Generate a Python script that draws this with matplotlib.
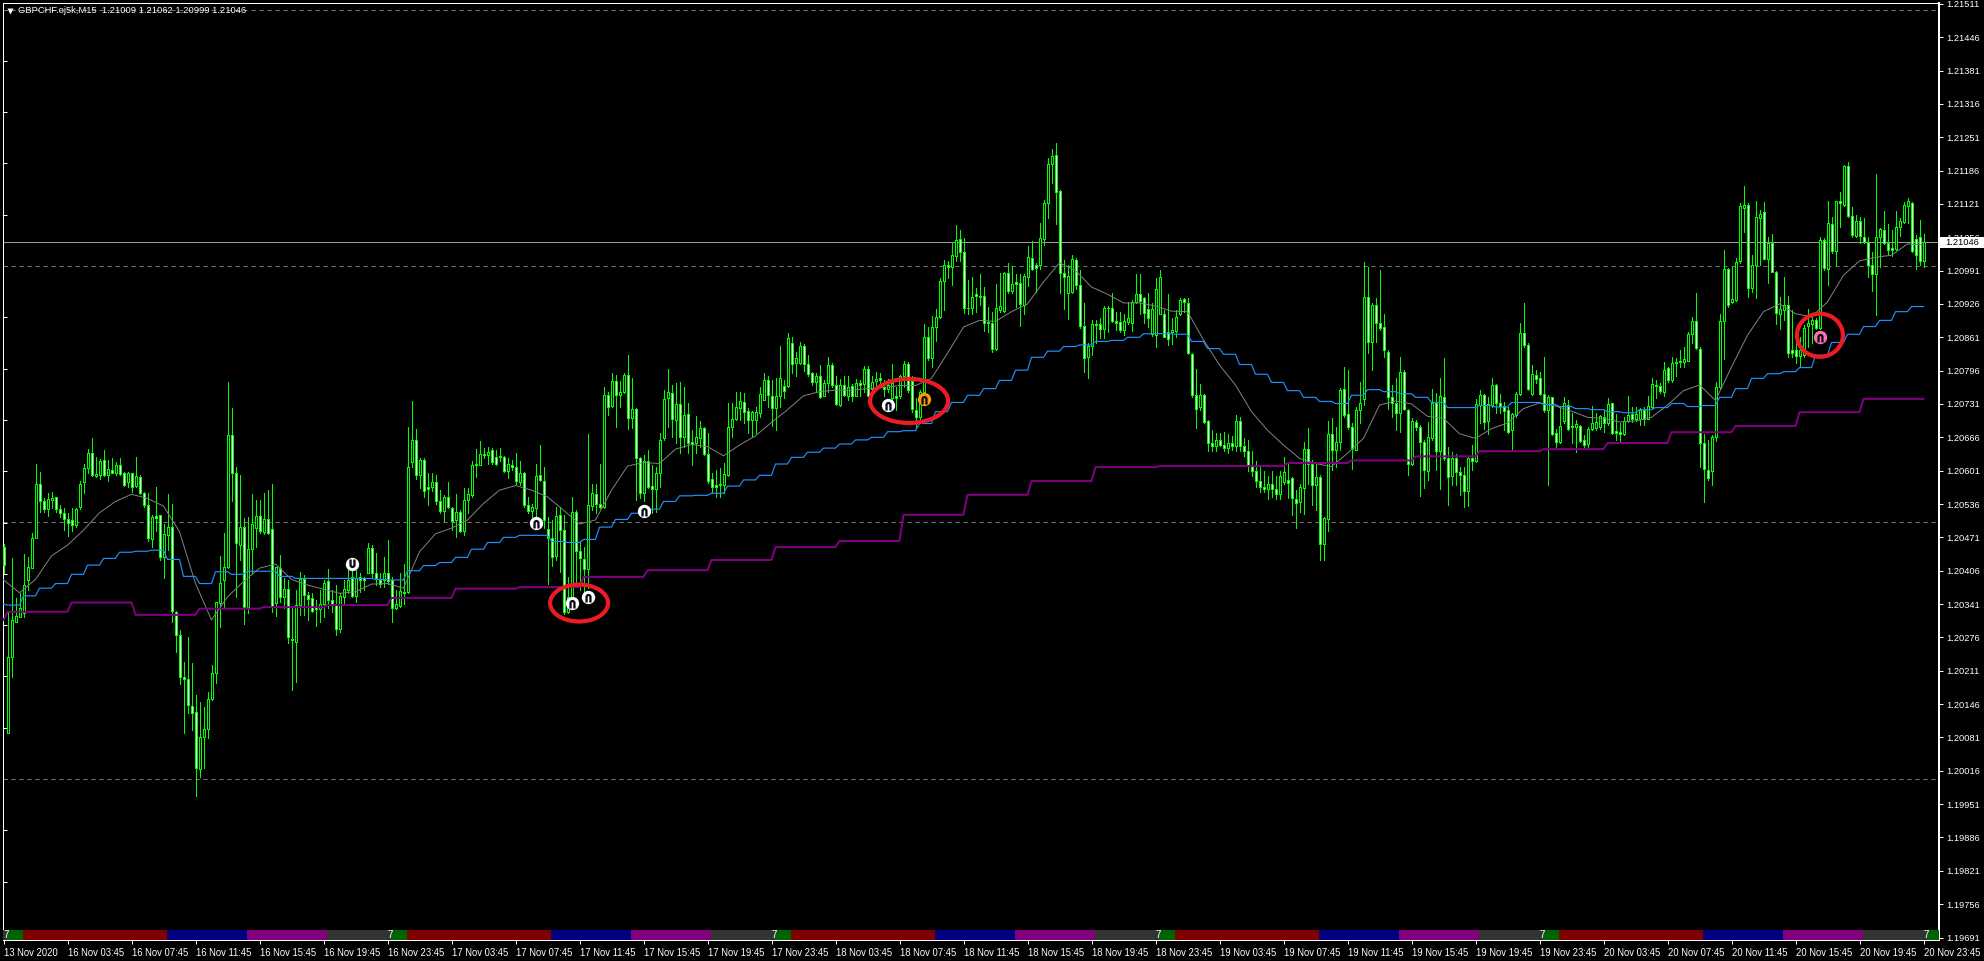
import numpy as np
import matplotlib
matplotlib.use("Agg")
import matplotlib.pyplot as plt
from matplotlib.patches import Ellipse, Rectangle
from matplotlib.path import Path
from matplotlib.lines import Line2D
from matplotlib.transforms import blended_transform_factory

plt.rcParams['font.family'] = ['Liberation Sans', 'DejaVu Sans']

# Prices in points above 1.20000 (1 point = 0.00001), one per M15 bar
opens_pts = [
453,89,237,307,316,323,387,411,469,575, 541,527,544,549,527,519,506,504,495,530,
578,606,635,591,593,621,592,603,596,613, 596,578,596,571,589,558,534,467,513,514,
432,476,491,326,280,199,194,142,131,19, 81,98,155,206,344,388,413,670,596,457,
491,335,448,489,513,482,506,487,344,411, 354,370,272,268,339,389,358,353,336,331,
342,385,349,339,293,355,368,393,357,393, 391,401,450,402,388,387,402,387,333,338,
365,364,617,661,593,622,570,570,578,541, 523,549,528,504,521,484,543,554,612,613,
632,632,641,627,630,628,601,612,609,578, 596,534,523,528,593,580,487,469,435,514,
485,326,355,521,445,428,409,532,556,537, 531,748,727,775,749,755,787,703,721,625,
557,619,571,566,596,664,742,753,700,731, 667,711,656,655,664,684,633,584,574,573,
573,593,687,701,723,734,717,699,699,714, 739,777,746,723,746,767,767,850,811,811,
844,808,791,773,786,746,772,807,768,729, 768,747,766,746,772,770,799,760,775,782,
765,760,742,747,746,785,809,775,720,705, 755,862,820,882,900,971,1001,998,1020,1052,
1028,919,919,945,941,941,891,888,839,914, 913,987,952,969,966,924,979,1015,1002,1002,
1052,1122,1199,1216,1147,986,948,950,1011,962, 884,823,844,887,887,878,919,918,893,890,
876,890,889,930,945,937,917,867,865,907, 906,872,871,874,907,935,927,829,748,725,
748,698,655,650,660,652,645,655,650,698, 650,640,610,600,580,570,565,575,565,555,
579,582,586,545,540,568,644,614,573,589, 459,506,672,641,657,761,711,686,642,719,
740,939,852,924,889,881,833,745,732,714, 794,719,615,696,686,657,601,664,732,640,
744,625,590,625,599,592,562,625,620,729, 748,698,729,768,733,728,720,681,709,751,
869,846,751,787,781,750,720,744,675,657, 698,729,689,686,688,660,653,683,684,687,
705,693,732,678,677,672,698,712,701,701, 720,702,725,769,766,755,801,777,810,813,
813,815,868,892,839,654,602,601,667,764, 893,995,930,933,1009,1114,1118,957,1001,1093,
1105,1014,1044,989,906,915,924,837,837,824, 826,883,887,894,880,1050,995,1082,1030,1126,
1118,1195,1097,1058,1087,1056,1047,1001,984,1056, 1071,1045,1036,1034,1076,1086,1117,1122,1052,1056,
1009]
highs_pts = [
459,326,430,352,362,439,433,479,615,599, 547,557,560,550,534,528,518,528,528,580,
614,643,664,628,623,641,622,625,617,625, 599,599,596,627,593,560,558,515,569,515,
498,556,536,328,290,229,277,227,164,151, 141,170,222,345,434,479,774,723,608,593,
508,511,555,543,544,557,563,575,414,437, 391,388,336,368,404,398,365,362,349,368,
388,409,368,378,362,388,407,414,407,401, 394,460,456,440,401,433,466,394,368,401,
419,686,737,682,625,625,596,596,593,563, 554,578,531,556,524,567,567,619,643,658,
645,648,645,641,645,630,625,622,636,619, 599,550,537,615,651,609,511,505,531,531,
515,394,550,524,463,453,672,576,576,615, 765,755,791,788,775,791,827,781,723,628,
632,641,612,609,674,759,799,768,771,773, 765,733,681,707,697,687,674,596,602,606,
616,733,733,755,755,752,723,718,726,765, 792,785,778,781,844,778,869,861,833,851,
848,827,794,791,807,778,822,810,785,779, 785,785,770,779,778,805,805,785,794,792,
778,779,809,765,788,814,812,785,742,758, 887,882,902,916,976,1012,1009,1045,1080,1070,
1054,972,979,958,985,960,920,911,965,987, 989,1005,1000,985,984,985,1039,1049,1005,1083,
1129,1210,1228,1239,1148,1011,1002,1021,1015,992, 927,849,895,895,898,922,922,948,911,911,
907,930,933,984,984,940,947,927,976,993, 914,945,898,914,937,937,937,831,800,770,
751,700,680,675,675,676,672,668,709,705, 665,660,640,620,610,600,590,600,590,600,
628,615,589,563,576,657,685,621,615,592, 511,698,703,687,763,803,798,693,725,774,
1008,998,927,937,993,906,836,768,781,823, 797,722,703,699,690,660,696,761,753,781,
820,648,638,634,608,608,628,651,740,759, 751,745,781,770,751,735,725,714,755,889,
927,849,807,797,794,822,748,745,683,725, 744,738,713,699,690,670,686,727,713,709,
719,742,733,712,693,706,746,725,725,724, 725,746,781,778,771,813,803,823,820,836,
842,872,901,947,842,672,660,670,774,907, 1031,997,998,1015,1122,1156,1122,1021,1127,1109,
1125,1057,1062,991,940,979,941,914,872,862, 885,917,901,898,1056,1054,1127,1096,1127,1145,
1197,1203,1115,1099,1096,1093,1056,1028,1179,1075, 1107,1082,1070,1108,1093,1125,1133,1125,1060,1089,
1062]
lows_pts = [
401,89,198,307,316,316,368,411,469,521, 521,513,528,521,511,485,474,484,492,527,
557,596,591,588,584,591,580,596,593,593, 571,570,560,569,556,531,463,452,484,427,
391,446,307,248,186,90,128,95,-34,4, 21,79,154,188,296,333,411,541,355,427,
303,324,401,453,479,478,478,326,318,346, 333,265,174,190,320,320,310,326,298,307,
316,333,326,281,287,339,362,355,346,365, 368,401,393,378,375,375,381,307,331,336,
342,362,609,584,567,550,534,562,537,518, 502,528,485,471,482,476,518,550,589,612,
625,614,614,612,619,599,586,602,576,573, 531,518,511,508,580,489,381,415,427,404,
322,323,349,378,368,362,372,524,518,528, 528,710,726,687,726,752,682,684,544,547,
541,567,518,521,570,661,687,667,654,635, 648,635,612,635,648,632,577,560,550,549,
557,590,667,700,700,693,674,667,674,706, 738,726,688,681,726,742,765,791,786,809,
796,786,768,755,742,746,755,765,729,727, 746,738,736,746,746,755,746,749,765,765,
746,755,739,720,742,765,755,716,687,700, 753,817,804,853,898,914,976,963,1009,1009,
908,906,907,911,924,874,872,833,836,911, 911,947,947,920,883,907,961,993,950,995,
1041,1093,1161,1082,948,917,896,947,956,880, 794,781,826,849,859,859,872,891,875,872,
865,886,873,927,907,888,881,863,842,906, 861,846,848,861,904,911,829,745,685,719,
693,640,640,640,650,640,636,642,640,640, 630,600,590,570,560,560,545,550,545,545,
576,547,514,490,521,517,576,534,524,426, 426,484,602,608,641,706,683,605,641,693,
729,831,797,852,875,822,722,706,681,677, 719,592,612,680,551,568,582,660,602,566,
621,534,573,573,553,530,532,602,618,693, 683,673,725,714,713,680,675,641,706,748,
842,758,748,771,748,716,573,670,647,654, 693,680,654,638,657,647,647,680,680,683,
677,690,673,660,659,670,696,696,698,690, 690,701,724,742,753,746,774,774,785,803,
803,815,849,839,608,540,582,573,659,761, 818,920,927,932,1006,1067,940,950,937,1002,
1013,966,989,887,878,894,823,822,810,805, 823,842,849,878,878,993,963,1026,1002,1076,
1117,1096,1056,1057,1044,1044,979,952,904,998, 1043,1021,1019,1031,1058,1084,1083,1028,995,1002,
999]
closes_pts = [
417,237,310,318,333,378,414,469,575,541, 527,545,548,527,519,506,500,495,526,576,
606,635,593,594,619,592,604,597,612,595, 574,596,570,591,558,534,469,510,508,432,
478,491,328,280,199,194,144,129,21,81, 97,155,206,345,382,413,670,596,461,491,
336,448,498,513,484,506,480,338,413,354, 370,276,270,339,389,359,350,327,331,342,
382,348,342,292,357,370,388,357,391,387, 387,450,402,392,381,402,385,333,341,367,
362,608,661,593,622,562,565,578,541,523, 549,531,502,521,484,544,556,612,615,633,
634,638,617,614,628,601,615,609,580,596, 534,523,530,590,582,505,469,433,513,485,
326,355,521,445,431,409,534,557,536,531, 748,726,775,748,755,788,703,721,625,558,
619,570,566,597,661,740,755,701,731,667, 710,655,653,666,684,634,580,569,570,575,
595,686,701,725,736,716,700,716,715,750, 777,748,723,747,781,757,859,809,820,844,
809,790,773,786,744,772,807,768,731,768, 748,765,746,772,768,799,747,773,779,778,
760,768,772,743,785,809,758,721,705,755, 861,820,882,900,971,1001,998,1021,1050,1028,
918,918,940,941,940,889,888,839,919,922, 987,952,965,965,926,980,1017,995,997,1054,
1122,1198,1214,1145,986,979,981,1013,963,884, 820,844,886,885,878,919,918,893,888,876,
893,898,930,945,932,909,899,917,956,978, 862,858,876,900,933,930,831,748,722,748,
696,655,650,660,652,645,655,650,698,650, 640,610,600,580,570,565,575,565,555,590,
599,577,547,538,569,644,614,573,589,459, 508,672,641,657,759,709,686,644,720,733,
940,852,924,888,880,836,745,732,714,794, 722,615,697,686,657,602,666,732,640,746,
625,589,625,599,592,562,625,620,731,748, 696,731,768,733,728,718,677,711,751,869,
846,761,789,780,751,719,744,673,657,689, 732,683,686,692,659,651,683,693,696,707,
693,731,675,675,672,698,709,701,712,720, 702,728,770,766,757,798,777,810,813,815,
818,868,892,841,654,605,586,666,764,892, 995,924,935,1008,1117,1118,958,1001,1095,1102,
1014,1044,989,909,917,924,831,831,824,837, 880,888,894,880,1050,997,1083,1030,1126,1122,
1195,1097,1060,1087,1058,1047,1001,984,1057,1073, 1045,1032,1032,1076,1087,1118,1126,1030,1021,1010,
1046]

# Hourly stepped average (blue): first bar, then one value per hour (4 bars)
blue_first = 341
blue_hourly = [
339,357,372,381,399,417,430,442,444,446,428,395,381,404,399,405,405,395,391,391,391,
391,391,389,388,406,416,422,432,448,461,471,475,475,463,461,467,491,506,518,
526,541,552,553,557,571,583,592,614,627,637,645,653,661,666,677,679,693,716,734,
748,761,777,797,822,834,843,846,853,855,861,868,868,867,853,839,828,808,789,773,
757,744,736,732,748,759,755,751,744,734,724,724,728,725,734,734,730,726,722,720,
716,714,720,724,732,726,728,744,761,781,790,794,802,826,851,867,882,894,911,921]

# Four-hour stepped average (purple): first bar, then one value per 16 bars
purple_first = 310
purple_h4 = [326,344,320,332,335,339,353,371,374,394,407,427,452,464,515,554,581,608,
             610,610,616,621,629,639,643,655,676,688,715,741]

# Fast average (grey), read every 4th bar
gray_every4 = [
388,363,389,435,456,485,519,541,555,547, 532,482,381,310,355,385,411,419,389,378,
370,362,365,380,381,372,443,478,489,505, 537,563,572,563,550,524,497,505,563,610,
617,615,643,652,648,630,651,669,695,720, 747,755,758,758,761,763,767,767,781,830,
881,894,892,911,926,969,1006,991,959,945, 928,928,922,912,911,856,807,768,716,680,
651,625,615,609,635,664,729,737,731,707, 703,673,664,683,694,722,733,727,717,705,
703,696,698,705,729,757,768,738,803,865, 911,926,907,901,930,982,1010,1017,1021,1043,
1041]

# Signal icons
sig_bars = [87, 133, 160, 142, 146, 221, 230, 454]
sig_pts = [419, 499, 522, 343, 355, 729, 741, 862]
sig_colors = ['white', 'white', 'white', 'white', 'white', 'white', '#ff9a00', '#ff6fb5']
sig_inverted = [True, False, False, False, False, False, False, False]

# Hand drawn red ellipses
ell_bars = [143.9, 226.4, 454.1]
ell_pts = [343, 737, 865]
ell_w_bars = [14.5, 19.5, 11.5]
ell_h_pts = [72, 86, 84]

sess_colors = {'asia': '#006400', 'europe': '#800000', 'us': '#000080', 'late': '#800080', 'close': '#333333'}
sess_names = ['asia', 'europe', 'us', 'late', 'close']
sess_bars = [4, 36, 20, 20, 16]

x_labels = ['13 Nov 2020'] + [f'{d} Nov {h}' for d in range(16, 21)
                              for h in ['03:45', '07:45', '11:45', '15:45', '19:45', '23:45']]
title_text = 'GBPCHF.oj5k,M15  1.21009 1.21062 1.20999 1.21046'
last_price = 1.21046
round_levels = [1.215, 1.21, 1.205, 1.20]


def px(a):
    return 1.2 + np.asarray(a, dtype=float) / 1e5


o, h, l, c = map(px, (opens_pts, highs_pts, lows_pts, closes_pts))
idx = np.arange(len(o))

W, H = 1984, 961
Y0, PXU = 266, 51300  # row of 1.21000 and pixels per unit of price
fig = plt.figure(figsize=(W / 100, H / 100), dpi=100, facecolor='black')
L, R, T, B = 3, 1939, 2.5, 940
ax = fig.add_axes([L / W, 1 - B / H, (R - L) / W, (B - T) / H], facecolor='black')
ax.set_xlim((L - 3.5) / 4, (R - 3.5) / 4)
ymin = 1.21 - (B - Y0) / PXU
ymax = 1.21 + (Y0 - T) / PXU
ax.set_ylim(ymin, ymax)
LW = 0.72

for s in ax.spines.values():
    s.set_color('white')
    s.set_linewidth(LW)
ax.spines['right'].set_linewidth(2 * LW)

# level lines
ax.hlines(round_levels, 0, 1, transform=ax.get_yaxis_transform(), colors='#7a7a7a',
          linewidth=LW, linestyles=(0, (4, 4)), zorder=1)
ax.axhline(last_price, color='#9a9a9a', linewidth=LW, zorder=1)

# candles
ax.vlines(idx, l, h, colors='#00ff00', linewidth=LW, zorder=2, antialiased=False)
fills = ['black' if cc > oo else 'white' for oo, cc in zip(o, c)]
ax.bar(idx, c - o, bottom=o, width=0.5, color=fills, edgecolor='#00ff00',
       linewidth=LW, zorder=3, antialiased=False)

# averages
ax.plot(idx[::4], px(gray_every4), color='#808080', linewidth=LW, zorder=4)
blue_line = px(np.r_[blue_first, np.repeat(blue_hourly, 4)])
ax.plot(idx, blue_line, color='#1e90ff', linewidth=0.85, zorder=5)
purple_line = px(np.r_[purple_first, np.repeat(purple_h4, 16)])
ax.plot(idx, purple_line, color='#800080', linewidth=1.45, zorder=5)

# session strip
strip_top = ymin + 10 / PXU
edges = [(0, 1, sess_colors['close'])]
start = 1
for d in range(5):
    for n, b in zip(sess_names, sess_bars):
        edges.append((start, b, sess_colors[n]))
        start += b
edges.append((start, ax.get_xlim()[1] - start + 0.125, sess_colors['asia']))
for s0, b, col in edges:
    ax.broken_barh([(s0 - 0.125, b)], (ymin, strip_top - ymin), facecolors=col, zorder=6)
for d in range(6):
    ax.text(0.625 + 96 * d, (ymin + strip_top) / 2, '7', color='white', fontsize=7,
            ha='center', va='center', zorder=7)

# ellipses
for ex, ey, ew, eh in zip(ell_bars, ell_pts, ell_w_bars, ell_h_pts):
    ax.add_patch(Ellipse((ex, float(px(ey))), ew, eh / 1e5, fill=False, edgecolor='#ed1c24',
                         linewidth=3.0, zorder=8))

# signal icons
t = np.linspace(0, np.pi, 24)
outer = np.c_[np.cos(t) * 0.62, np.sin(t) * 0.62 + 0.1]
inner = np.c_[np.cos(t[::-1]) * 0.16, np.sin(t[::-1]) * 0.16 + 0.1]
arch = np.r_[[[0.62, -1.0]], outer, [[-0.62, -1.0], [-0.16, -1.0]], inner, [[0.16, -1.0], [0.62, -1.0]]]
arch_inv = arch * [1, -1]
for sx, sy, col, inv in zip(sig_bars, sig_pts, sig_colors, sig_inverted):
    ax.plot([sx], [float(px(sy))], 'o', ms=9.6, mfc=col, mec='none', zorder=9)
    ax.plot([sx], [float(px(sy))], marker=Path(arch_inv if inv else arch), ms=7.2, mfc='#0a0a18',
            mec='none', zorder=10, linestyle='none')

# x axis
ax.set_xticks(idx[::16])
ax.set_xticklabels(x_labels, fontsize=6.85, color='white', ha='left')
ax.tick_params(axis='x', colors='white', direction='out', length=3, width=LW, pad=2.6)

# y axis
yt = 1.21511 - 0.00065 * np.arange(29)
ax.yaxis.tick_right()
ax.set_yticks(yt)
ax.set_yticklabels([f'{v:.5f}' for v in yt], fontsize=6.7, color='white')
ax.tick_params(axis='y', colors='white', direction='out', length=3, width=LW, pad=2.5)
sec = ax.secondary_yaxis('left')
sec.set_yticks(np.arange(1.197, 1.2151, 0.001))
sec.tick_params(axis='y', direction='in', length=3.2, width=LW, color='white', labelleft=False)
sec.spines['left'].set_visible(False)

# current price flag
tr = blended_transform_factory(ax.transAxes, ax.transData)
ax.add_patch(Rectangle((1.0006, last_price - 5.5 / PXU), 44 / (R - L), 11 / PXU, transform=tr,
                       clip_on=False, facecolor='white', edgecolor='none', zorder=20))
ax.text(1 + 6 / (R - L), last_price, f'{last_price:.5f}', transform=tr, color='black', fontsize=6.7,
        ha='left', va='center', zorder=21, clip_on=False)

# chart header
fig.text(18 / W, 1 - 10.3 / H, title_text, color='white', fontsize=6.75, ha='left', va='center')
fig.add_artist(Line2D([9.5 / W], [1 - 10.5 / H], marker='v', ms=4.4, mfc='white', mec='none',
                      transform=fig.transFigure, linestyle='none'))

fig.savefig('out.png', dpi=100, facecolor='black')
